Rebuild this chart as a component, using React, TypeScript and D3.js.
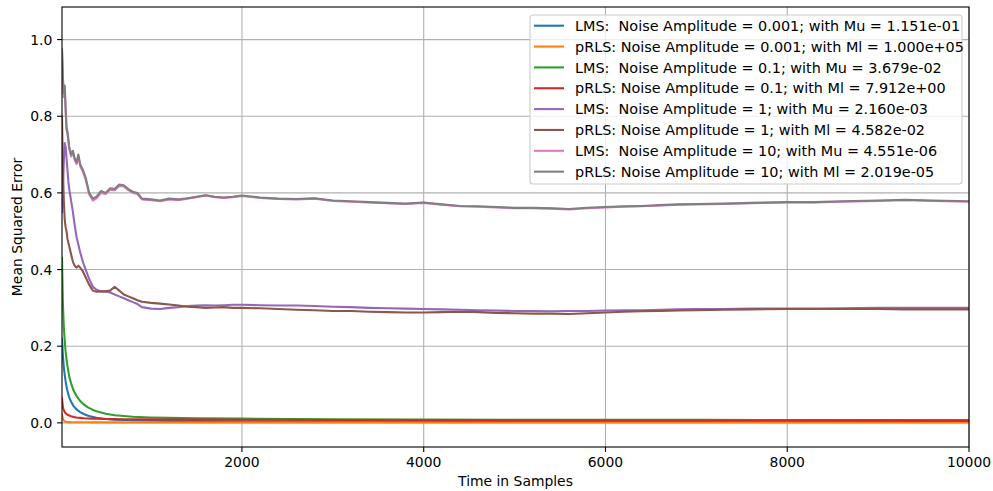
import React from "react";
import * as d3 from "d3";

// Sample grids (time in samples)
const samplesSmooth = [20, 30, 40, 50, 60, 70, 80, 100, 120, 150, 180, 220, 260, 300, 350, 400, 500, 600, 700, 800, 1000, 1200, 1500, 2000, 3000, 4000, 5000, 6000, 7000, 8000, 9000, 10000];
const samplesFine = [20, 30, 40, 50, 60, 70, 80, 90, 100, 120, 140, 160, 180, 200, 220, 250, 280, 320, 360, 400, 450, 500, 550, 600, 650, 700, 750, 800, 850, 900, 1000, 1100, 1200, 1300, 1400, 1500, 1600, 1700, 1800, 1900, 2000, 2200, 2400, 2600, 2800, 3000, 3200, 3400, 3600, 3800, 4000, 4200, 4400, 4600, 4800, 5000, 5200, 5400, 5600, 5800, 6000, 6200, 6400, 6600, 6800, 7000, 7300, 7600, 8000, 8300, 8600, 9000, 9300, 9600, 10000];

// Smooth series (on samplesSmooth)
const lms0001 = [0.22, 0.175, 0.145, 0.125, 0.108, 0.094, 0.083, 0.066, 0.055, 0.043, 0.035, 0.028, 0.023, 0.019, 0.016, 0.013, 0.010, 0.0085, 0.0075, 0.0065, 0.0055, 0.005, 0.0045, 0.004, 0.0035, 0.003, 0.003, 0.0028, 0.0027, 0.0026, 0.0025, 0.0025];
const prls0001 = [0.022, 0.01, 0.006, 0.004, 0.003, 0.0025, 0.002, 0.0018, 0.0017, 0.0016, 0.0015, 0.0015, 0.0014, 0.0014, 0.0013, 0.0013, 0.0012, 0.0012, 0.0012, 0.0011, 0.0011, 0.0011, 0.001, 0.001, 0.001, 0.001, 0.001, 0.001, 0.001, 0.001, 0.001, 0.001];
const lms01 = [0.43, 0.31, 0.25, 0.215, 0.185, 0.165, 0.148, 0.12, 0.103, 0.083, 0.07, 0.057, 0.048, 0.041, 0.035, 0.03, 0.024, 0.02, 0.018, 0.016, 0.014, 0.013, 0.012, 0.011, 0.0095, 0.0088, 0.0082, 0.008, 0.0077, 0.0075, 0.0073, 0.0072];
const prls01 = [0.064, 0.04, 0.033, 0.028, 0.025, 0.023, 0.021, 0.019, 0.017, 0.015, 0.014, 0.013, 0.012, 0.0115, 0.011, 0.0105, 0.01, 0.0098, 0.0095, 0.0093, 0.009, 0.0088, 0.0085, 0.0082, 0.0075, 0.007, 0.0065, 0.0062, 0.006, 0.006, 0.0058, 0.0057];

// Noisy series (on samplesFine)
const lms1 = [0.55, 0.62, 0.68, 0.73, 0.72, 0.69, 0.66, 0.63, 0.61, 0.58, 0.55, 0.515, 0.485, 0.465, 0.445, 0.42, 0.40, 0.375, 0.355, 0.347, 0.343, 0.343, 0.34, 0.335, 0.33, 0.325, 0.32, 0.315, 0.31, 0.302, 0.298, 0.297, 0.30, 0.302, 0.305, 0.306, 0.307, 0.306, 0.307, 0.308, 0.308, 0.307, 0.306, 0.306, 0.305, 0.303, 0.302, 0.30, 0.299, 0.298, 0.297, 0.296, 0.295, 0.294, 0.293, 0.292, 0.292, 0.291, 0.292, 0.292, 0.293, 0.294, 0.294, 0.295, 0.296, 0.297, 0.297, 0.298, 0.298, 0.298, 0.299, 0.30, 0.30, 0.30, 0.30];
const prls1 = [0.80, 0.66, 0.58, 0.53, 0.51, 0.50, 0.48, 0.47, 0.46, 0.44, 0.42, 0.41, 0.405, 0.41, 0.405, 0.395, 0.38, 0.36, 0.345, 0.342, 0.343, 0.343, 0.345, 0.355, 0.345, 0.335, 0.33, 0.325, 0.32, 0.316, 0.313, 0.311, 0.309, 0.306, 0.303, 0.302, 0.30, 0.301, 0.302, 0.30, 0.30, 0.299, 0.297, 0.295, 0.294, 0.292, 0.292, 0.29, 0.289, 0.288, 0.288, 0.289, 0.29, 0.289, 0.287, 0.286, 0.285, 0.285, 0.284, 0.286, 0.288, 0.29, 0.291, 0.292, 0.293, 0.294, 0.295, 0.296, 0.297, 0.297, 0.297, 0.297, 0.296, 0.296, 0.296];
const lms10 = [0.97, 0.89, 0.85, 0.875, 0.815, 0.765, 0.755, 0.735, 0.715, 0.695, 0.705, 0.685, 0.675, 0.695, 0.67, 0.655, 0.635, 0.595, 0.58, 0.586, 0.60, 0.597, 0.608, 0.607, 0.618, 0.617, 0.607, 0.60, 0.597, 0.583, 0.581, 0.578, 0.583, 0.581, 0.585, 0.589, 0.593, 0.589, 0.587, 0.589, 0.592, 0.587, 0.584, 0.583, 0.585, 0.579, 0.577, 0.575, 0.573, 0.571, 0.574, 0.569, 0.565, 0.564, 0.562, 0.56, 0.56, 0.559, 0.557, 0.56, 0.562, 0.564, 0.565, 0.567, 0.569, 0.57, 0.571, 0.573, 0.575, 0.575, 0.577, 0.579, 0.581, 0.579, 0.577];
const prls10 = [0.975, 0.90, 0.86, 0.88, 0.82, 0.77, 0.76, 0.74, 0.72, 0.70, 0.71, 0.69, 0.68, 0.70, 0.675, 0.66, 0.64, 0.60, 0.585, 0.59, 0.605, 0.60, 0.612, 0.61, 0.622, 0.62, 0.61, 0.603, 0.60, 0.585, 0.583, 0.58, 0.585, 0.583, 0.586, 0.59, 0.594, 0.59, 0.588, 0.59, 0.593, 0.588, 0.585, 0.584, 0.586, 0.58, 0.578, 0.576, 0.574, 0.572, 0.575, 0.57, 0.566, 0.565, 0.563, 0.561, 0.561, 0.56, 0.558, 0.561, 0.563, 0.565, 0.566, 0.568, 0.57, 0.571, 0.572, 0.574, 0.576, 0.576, 0.578, 0.58, 0.582, 0.58, 0.578];

const legendLabels = [
  "LMS:  Noise Amplitude = 0.001; with Mu = 1.151e-01",
  "pRLS: Noise Amplitude = 0.001; with Ml = 1.000e+05",
  "LMS:  Noise Amplitude = 0.1; with Mu = 3.679e-02",
  "pRLS: Noise Amplitude = 0.1; with Ml = 7.912e+00",
  "LMS:  Noise Amplitude = 1; with Mu = 2.160e-03",
  "pRLS: Noise Amplitude = 1; with Ml = 4.582e-02",
  "LMS:  Noise Amplitude = 10; with Mu = 4.551e-06",
  "pRLS: Noise Amplitude = 10; with Ml = 2.019e-05",
];
const colors = ["#1f77b4", "#ff7f0e", "#2ca02c", "#d62728", "#9467bd", "#8c564b", "#e377c2", "#7f7f7f"];
const xTicks = [2000, 4000, 6000, 8000, 10000];
const yTicks = [0.0, 0.2, 0.4, 0.6, 0.8, 1.0];

const W = 993, H = 491;
const L = 62, R = 969, T = 7, B = 447;
const FONT = "DejaVu Sans, sans-serif";
const FS = 13.9;
const LFS = 14.4;

export default function App() {
  const x = d3.scaleLinear().domain([20, 10000]).range([L, R]);
  const y = d3.scaleLinear().domain([-0.063, 1.085]).range([B, T]);

  const series = [
    { xs: samplesSmooth, ys: lms0001 },
    { xs: samplesSmooth, ys: prls0001 },
    { xs: samplesSmooth, ys: lms01 },
    { xs: samplesSmooth, ys: prls01 },
    { xs: samplesFine, ys: lms1 },
    { xs: samplesFine, ys: prls1 },
    { xs: samplesFine, ys: lms10 },
    { xs: samplesFine, ys: prls10 },
  ];
  const lineGen = d3.line<[number, number]>().x((d) => x(d[0])).y((d) => y(d[1]));

  const rowY0 = 25.7, rowDy = 20.85;

  return (
    <svg width={W} height={H} style={{ position: "absolute", left: 0, top: 0, background: "#fff" }} fontFamily={FONT}>
      <defs>
        <clipPath id="plot">
          <rect x={L} y={T} width={R - L} height={B - T} />
        </clipPath>
      </defs>
      <rect x={0} y={0} width={W} height={H} fill="#fff" />
      {/* grid */}
      {xTicks.map((t) => (
        <line key={"gx" + t} x1={x(t)} x2={x(t)} y1={T} y2={B} stroke="#b0b0b0" strokeWidth={1.1} />
      ))}
      {yTicks.map((t) => (
        <line key={"gy" + t} x1={L} x2={R} y1={y(t)} y2={y(t)} stroke="#b0b0b0" strokeWidth={1.1} />
      ))}
      {/* lines */}
      <g clipPath="url(#plot)">
        {series.map((s, i) => (
          <path
            key={i}
            d={lineGen(s.xs.map((v, j) => [v, s.ys[j]] as [number, number])) || ""}
            fill="none"
            stroke={colors[i]}
            strokeWidth={2.08}
            strokeLinejoin="round"
            strokeLinecap="square"
          />
        ))}
      </g>
      {/* frame */}
      <rect x={L} y={T} width={R - L} height={B - T} fill="none" stroke="#000" strokeWidth={1.1} />
      {/* x ticks */}
      {xTicks.map((t) => (
        <g key={"xt" + t}>
          <line x1={x(t)} x2={x(t)} y1={B} y2={B + 4.9} stroke="#000" strokeWidth={1.1} />
          <text x={x(t)} y={B + 19.8} textAnchor="middle" fontSize={FS} fill="#000">
            {t}
          </text>
        </g>
      ))}
      {/* y ticks */}
      {yTicks.map((t) => (
        <g key={"yt" + t}>
          <line x1={L - 4.9} x2={L} y1={y(t)} y2={y(t)} stroke="#000" strokeWidth={1.1} />
          <text x={L - 9.7} y={y(t) + 5.1} textAnchor="end" fontSize={FS} fill="#000">
            {t.toFixed(1)}
          </text>
        </g>
      ))}
      <text x={(L + R) / 2} y={486} textAnchor="middle" fontSize={FS} fill="#000">
        Time in Samples
      </text>
      <text transform={`translate(21.5, ${(T + B) / 2}) rotate(-90)`} textAnchor="middle" fontSize={FS} fill="#000">
        Mean Squared Error
      </text>
      {/* legend */}
      <rect x={530} y={15} width={432} height={169} rx={3} fill="#fff" fillOpacity={0.8} stroke="#cccccc" strokeWidth={1.1} />
      {legendLabels.map((lab, i) => {
        const ry = rowY0 + i * rowDy;
        return (
          <g key={"lg" + i}>
            <line x1={534} x2={564} y1={ry} y2={ry} stroke={colors[i]} strokeWidth={2.08} />
            <text x={575} y={ry + 5.2} fontSize={LFS} fill="#000" style={{ whiteSpace: "pre" }}>
              {lab}
            </text>
          </g>
        );
      })}
    </svg>
  );
}
